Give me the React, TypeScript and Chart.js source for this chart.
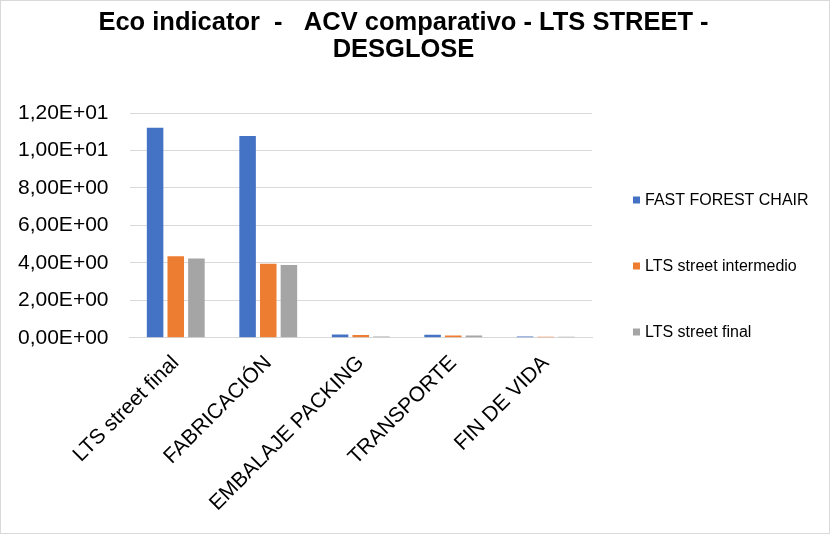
import React, { useEffect, useRef } from "react";
import { Chart, registerables, layouts } from "chart.js";

Chart.register(...registerables);

const categories = ["LTS street final", "FABRICACIÓN", "EMBALAJE PACKING", "TRANSPORTE", "FIN DE VIDA"];
const seriesNames = ["FAST FOREST CHAIR", "LTS street intermedio", "LTS street final"];
const fastForestChair = [11.21, 10.77, 0.17, 0.16, 0.06];
const ltsIntermedio = [4.35, 3.95, 0.15, 0.12, 0.05];
const ltsFinal = [4.23, 3.89, 0.06, 0.12, 0.05];
const seriesColors = ["#4472C4", "#ED7D31", "#A5A5A5"];
const titleLines = ["Eco indicator  -   ACV comparativo - LTS STREET -", "DESGLOSE"];
const yMin = 0;
const yMax = 12;
const yStep = 2;

const FONT = "'Liberation Sans', Arial, sans-serif";

function fmtExp(v: number): string {
  const [m, e] = v.toExponential(2).split("e");
  const exp = parseInt(e, 10);
  const sign = exp < 0 ? "-" : "+";
  return m.replace(".", ",") + "E" + sign + String(Math.abs(exp)).padStart(2, "0");
}

// Side legend as a Chart.js layout box (right side)
const sideLegendPlugin = {
  id: "sideLegend",
  beforeInit(chart: any) {
    const box: any = {
      position: "right",
      weight: 1000,
      fullSize: true,
      options: {},
      width: 0,
      height: 0,
      left: 0,
      top: 0,
      right: 0,
      bottom: 0,
      isHorizontal() {
        return false;
      },
      update(maxWidth: number, maxHeight: number) {
        this.width = 218;
        this.height = maxHeight;
      },
      draw() {
        const ctx = chart.ctx;
        const ds = chart.data.datasets;
        const spacing = 66;
        const midY = chart.height / 2 - 1;
        const boxX = this.left + 41;
        ctx.save();
        ctx.font = `16px ${FONT}`;
        ctx.textBaseline = "middle";
        ctx.textAlign = "left";
        ds.forEach((d: any, i: number) => {
          const cy = midY + (i - (ds.length - 1) / 2) * spacing;
          ctx.fillStyle = d.backgroundColor;
          ctx.fillRect(boxX, cy - 3.5, 7, 7);
          ctx.fillStyle = "#000";
          ctx.fillText(d.label, boxX + 12, cy + 0.5);
        });
        ctx.restore();
      },
    };
    layouts.addBox(chart, box);
  },
};

export default function App() {
  const ref = useRef<HTMLCanvasElement | null>(null);
  useEffect(() => {
    if (!ref.current) return;
    const values = [fastForestChair, ltsIntermedio, ltsFinal];
    const chart = new Chart(ref.current, {
      type: "bar",
      data: {
        labels: categories,
        datasets: seriesNames.map((name, i) => ({
          label: name,
          data: values[i],
          backgroundColor: seriesColors[i],
          borderWidth: 0,
          categoryPercentage: 0.67,
          barPercentage: 0.8,
        })),
      },
      plugins: [sideLegendPlugin],
      options: {
        animation: false,
        responsive: false,
        maintainAspectRatio: false,
        layout: { padding: { left: -4, right: 19, top: 0, bottom: 4 } },
        plugins: {
          tooltip: { enabled: false },
          legend: { display: false },
          title: {
            display: true,
            text: titleLines,
            color: "#000",
            font: { family: FONT, size: 25.5, weight: "bold", lineHeight: 1.08 },
            padding: { top: 8, bottom: 49 },
          },
        },
        scales: {
          x: {
            grid: { display: false, drawTicks: false },
            border: { display: true, color: "#D9D9D9", width: 1 },
            afterFit: (s: any) => {
              s.paddingLeft = 0;
              s.paddingRight = 0;
            },
            ticks: {
              color: "#000",
              font: { family: FONT, size: 21 },
              maxRotation: 45,
              minRotation: 45,
              padding: 13,
              autoSkip: false,
            },
          },
          y: {
            min: yMin,
            max: yMax,
            grid: { color: "#D9D9D9", lineWidth: 1, drawTicks: false },
            border: { display: false },
            ticks: {
              stepSize: yStep,
              color: "#000",
              font: { family: FONT, size: 21 },
              padding: 21,
              callback: (v: any) => fmtExp(Number(v)),
            },
          },
        },
      },
    });
    return () => chart.destroy();
  }, []);
  return (
    <div
      style={{
        position: "fixed",
        left: 0,
        top: 0,
        width: 830,
        height: 534,
        boxSizing: "border-box",
        border: "1px solid #D9D9D9",
        background: "#fff",
      }}
    >
      <canvas ref={ref} width={828} height={532} style={{ display: "block" }} />
    </div>
  );
}
